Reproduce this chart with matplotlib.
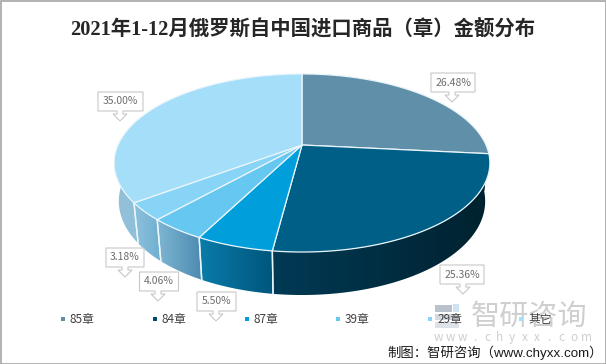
#!/usr/bin/env python3
"""2021 Russia imports from China by HS chapter, fake-3D pie"""

import numpy as np
import matplotlib
matplotlib.use('Agg')
import matplotlib.pyplot as plt
from matplotlib.patches import Polygon, Rectangle

cjk = ['Noto Sans CJK SC', 'DejaVu Sans']
plt.rcParams['font.family'] = cjk

# Data
chapters = ['85章', '84章', '87章', '39章', '29章', '其它']
shares = [26.48, 25.36, 5.50, 4.06, 3.18, 35.00]

# Colors
top_colors = ['#5F8FA9', '#005F86', '#009FDB', '#66C8F1', '#87D4F7', '#A4DEF9']
legend_colors = ['#5F8FA9', '#004A6B', '#009FDB', '#66C8F1', '#87D4F7', '#A4DEF9']
side_colors = [('#002A3F', '#002A3F'), ('#003A55', '#00222F'), ('#0A7CAA', '#00567C'),
               ('#7FB6D3', '#4C8BB0'), ('#8DC1DC', '#6FAFD0'), ('#93C1DA', '#7FB3D1')]

# Pie geometry in pixels
cx, cy = 302, 145
a, b, k = 184, 85.4, 0.202


def rim(theta):
    """Clockwise angle from 12 o'clock to picture coords, with perspective"""
    X, Y = np.sin(theta), -np.cos(theta)
    d = 1 - k * Y
    return a * X / d, b * Y / d, Y


def top_xy(theta):
    x, y, _ = rim(theta)
    return np.column_stack([cx + x, cy + y])


def bottom_xy(theta):
    x, y, Y = rim(theta)
    return np.column_stack([cx + 0.975 * x, cy + y + 37 + 6 * Y])


def hex_rgb(c):
    return np.array(matplotlib.colors.to_rgb(c))


fig = plt.figure(figsize=(6.06, 3.64), dpi=100)
ax = fig.add_axes([0, 0, 1, 1])
ax.set_xlim(0, 606)
ax.set_ylim(364, 0)
ax.axis('off')

edges = np.cumsum([0] + shares) / sum(shares) * 2 * np.pi

# Side walls first, the top face hides whatever faces backwards
for i in range(len(shares)):
    t = np.linspace(edges[i], edges[i + 1], 80)
    pts = np.vstack([top_xy(t), bottom_xy(t)[::-1]])
    poly = Polygon(pts, closed=True, facecolor='none', edgecolor='none')
    ax.add_patch(poly)
    x0, x1 = pts[:, 0].min(), pts[:, 0].max()
    left, right = side_colors[i]
    ramp = np.linspace(0, 1, 64)[None, :, None]
    grad = hex_rgb(left)[None, None, :] * (1 - ramp) + hex_rgb(right)[None, None, :] * ramp
    im = ax.imshow(grad, extent=[x0, x1, pts[:, 1].max(), pts[:, 1].min()],
                   aspect='auto', zorder=1)
    im.set_clip_path(poly)
    poly.set_zorder(1)
    # white seam on the wall
    for e in (edges[i], edges[i + 1]):
        if -np.cos(e) > 0.1:
            s, f = top_xy(np.array([e]))[0], bottom_xy(np.array([e]))[0]
            ax.plot([s[0], f[0]], [s[1], f[1]], color='#EAF6FC', lw=1.0, zorder=2)

ax.set_xlim(0, 606)
ax.set_ylim(364, 0)

# Top face
for i in range(len(shares)):
    t = np.linspace(edges[i], edges[i + 1], 120)
    pts = np.vstack([[cx, cy], top_xy(t)])
    ax.add_patch(Polygon(pts, closed=True, facecolor=top_colors[i],
                         edgecolor='#EAF6FC', linewidth=0.9, zorder=3))

# Data labels, callout boxes: left, top, width, tip x, tip y
boxes = [(431, 73, 44, 452, 102), (440, 265, 44, 463, 294), (197, 292, 39, 216, 321),
         (139.5, 272, 39, 158, 301), (106, 248, 38, 125, 277), (98, 92, 45, 120, 121)]
for val, (bx, by, bw, tx, ty) in zip(shares, boxes):
    h = by + 19
    pts = [(bx, by), (bx + bw, by), (bx + bw, h), (tx + 3, h), (tx + 3, h + 3),
           (tx + 7, h + 3), (tx, ty), (tx - 7, h + 3), (tx - 3, h + 3), (tx - 3, h), (bx, h)]
    ax.add_patch(Polygon(pts, closed=True, facecolor='white', edgecolor='#C8C8C8',
                         linewidth=0.8, zorder=5))
    ax.text(bx + bw / 2, by + 9.5, f'{val:.2f}%', ha='center', va='center', fontsize=7.5,
            color='#6E6E6E', zorder=6)

# Watermark
ax.text(529, 317, '智研咨询', ha='center', va='center', fontsize=21, color='#CFCFCF', zorder=4)
for ch, wx in zip('www.chyxx.com', np.linspace(438, 586, 13)):
    ax.text(wx, 337.5, ch, ha='center', va='center', fontsize=8.5, color='#CFCFCF', zorder=4)
ax.add_patch(Rectangle((435, 305), 17, 7, facecolor='#B9C1CB', edgecolor='none', zorder=4))
ax.add_patch(Rectangle((435, 314), 24, 6, facecolor='#D5DAE1', edgecolor='none', zorder=4))
ax.add_patch(Rectangle((435, 322), 24, 6, facecolor='#DDE2E8', edgecolor='none', zorder=4))
ax.add_patch(Rectangle((453, 304), 6, 8, facecolor='#CFE3F2', edgecolor='none', zorder=4))

# Legend
for name, col, lx in zip(chapters, legend_colors, [63, 155, 246.5, 338, 430, 521]):
    ax.add_patch(Rectangle((lx - 2, 317), 4, 4, facecolor=col, edgecolor='none', zorder=7))
    ax.text(lx + 7, 319, name, ha='left', va='center', fontsize=8.5, color='#404040', zorder=7)

# Title and source
ax.text(302.5, 29, '2021年1-12月俄罗斯自中国进口商品（章）金额分布', ha='center', va='center',
        fontsize=14.7, fontweight='bold', color='#262626',
        family=['Liberation Serif', 'Noto Sans CJK SC'])
ax.text(603, 353, '制图：智研咨询（www.chyxx.com）', ha='right', va='center', fontsize=9.6,
        color='#1A1A1A', zorder=7, family=['Liberation Sans', 'Noto Sans CJK SC'])

# Outer frame
ax.add_patch(Rectangle((0.5, 0.5), 605, 363, facecolor='none', edgecolor='#A6A6A6',
                       linewidth=1.2, zorder=8))

fig.savefig('out.png', dpi=100)
